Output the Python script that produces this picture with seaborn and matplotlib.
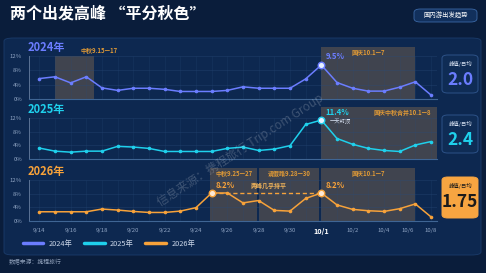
import numpy as np
import pandas as pd
import matplotlib.pyplot as plt
import seaborn as sns
from matplotlib.patches import FancyBboxPatch, Rectangle
from matplotlib.lines import Line2D

# --- DATA (share of trips per day, %) ---
years = ['2024年', '2025年', '2026年']
vals_2024 = [5.7, 6.2, 4.5, 6.2, 3.1, 2.4, 3.0, 3.0, 2.7, 2.1, 2.1, 2.1, 2.4,
             3.4, 3.0, 3.0, 3.0, 5.6, 9.5, 4.6, 3.0, 2.2, 2.2, 3.3, 4.8, 1.1]
vals_2025 = [3.2, 2.3, 2.0, 2.3, 2.3, 3.7, 3.5, 3.1, 2.2, 2.2, 2.2, 2.2, 3.1,
             3.5, 2.5, 2.9, 3.9, 10.1, 11.4, 6.0, 4.3, 3.1, 2.5, 2.2, 4.1, 5.1]
vals_2026 = [2.7, 2.7, 2.7, 2.7, 3.5, 3.2, 2.8, 2.5, 2.5, 2.9, 3.9, 8.2, 8.2,
             5.3, 6.0, 3.1, 2.9, 6.6, 8.2, 4.7, 3.4, 3.0, 2.8, 3.6, 5.0, 1.2]
tick_labels = ['9/14', '9/16', '9/18', '9/20', '9/22', '9/24', '9/26', '9/28',
               '9/30', '10/1', '10/2', '10/4', '10/6', '10/8']
tick_idx = [0, 2, 4, 6, 8, 10, 12, 14, 16, 18, 20, 22, 23.5, 25]
peak_idx = [[18], [18], [11, 18]]
ratio_text = ['2.0', '2.4', '1.75']

# holiday shading: (start, end, label)
holidays = [
    [(1, 3.5, '中秋9.15—17'), (17.95, 24.0, '国庆10.1—7')],
    [(17.95, 25.4, '国庆中秋合并10.1—8')],
    [(10.9, 13.9, '中秋9.25—27'), (14.05, 17.85, '请假路9.28—30'), (17.95, 24.0, '国庆10.1—7')],
]

# --- STYLE ---
COLORS = ['#6b7dff', '#1fd0ec', '#f7a23a']
BG = '#0a1d3b'
PANEL = '#0d2850'
TXT = '#8ea3c2'
HOLI_TXT = '#e09a36'

sns.set_theme(style='dark')
plt.rcParams['font.family'] = ['Noto Sans CJK SC', 'DejaVu Sans']
plt.rcParams['axes.unicode_minus'] = False

W, H = 486, 273
fx = lambda px: px / W
fy = lambda px: 1 - px / H

fig = plt.figure(figsize=(4.86, 2.73), dpi=100, facecolor=BG)

# inner rounded panel (behind the axes)
fig.patches.append(FancyBboxPatch((fx(4), fy(255)), fx(477), (255 - 38) / H,
                                  boxstyle='round,pad=0,rounding_size=0.02',
                                  mutation_aspect=H / W,
                                  transform=fig.transFigure, fc=PANEL, ec='#1b3c6b',
                                  lw=0.6, zorder=-5))

# title + badge
fig.text(fx(10), fy(14), '两个出发高峰 “平分秋色”', color='white', fontsize=11.5,
         fontweight='bold', va='center', ha='left')
fig.patches.append(FancyBboxPatch((fx(414), fy(22)), fx(63), 13 / H,
                                  boxstyle='round,pad=0,rounding_size=0.013',
                                  transform=fig.transFigure, fc='#12305c', ec='#3b68a6',
                                  lw=0.6, zorder=-4))
fig.text(fx(445.5), fy(15.5), '国内游出发趋势', color='white', fontsize=4.6,
         ha='center', va='center')

# panel layout in pixels: (box top, 12% line, 0% line)
layout = [(47, 56, 99), (107, 118, 159), (168, 180, 221)]
title_y = [48, 109, 171]
box_y = [(55, 93), (115, 153), (177, 218)]
x0_px, x1_px = 29, 437
first_px, last_px = 39.3, 431
step = (last_px - first_px) / 25
xlim = (-(first_px - x0_px) / step, 25 + (x1_px - last_px) / step)

all_vals = [vals_2024, vals_2025, vals_2026]

for k, vals in enumerate(all_vals):
    top, y12, y0 = layout[k]
    c = COLORS[k]
    ytop = 12 * (y0 - top) / (y0 - y12)
    ax = fig.add_axes([fx(x0_px), fy(y0), fx(x1_px - x0_px), (y0 - top) / H])
    ax.set_facecolor('none')
    ax.set_xlim(*xlim)
    ax.set_ylim(0, ytop)

    df = pd.DataFrame({'idx': np.arange(len(vals)), 'share': vals})

    # holiday boxes
    for j, (s, e, lab) in enumerate(holidays[k]):
        btop = 12 if (k == 0 and j == 0) else ytop
        ax.add_patch(Rectangle((s, 0), e - s, btop, fc='#4a4a4f', alpha=0.85,
                               ec='none', zorder=1))
        if k == 0 and j == 0:
            ax.text(2.6, 12.6, lab, color=HOLI_TXT, fontsize=4.3, ha='left',
                    va='bottom', fontweight='bold')
        elif k == 1:
            ax.text(e - 0.4, ytop - 0.6, lab, color=HOLI_TXT, fontsize=4.3,
                    ha='right', va='top', fontweight='bold')
        else:
            ax.text((s + e) / 2, ytop - 0.6, lab, color=HOLI_TXT, fontsize=4.3,
                    ha='center', va='top', fontweight='bold')

    # grid
    ax.hlines([4, 8, 12], xlim[0], xlim[1], color='#2a4c7a', lw=0.4, alpha=0.6, zorder=2)
    ax.vlines(np.arange(len(vals)), 0, 12, color='#2a4c7a', lw=0.4, alpha=0.35, zorder=2)

    sns.lineplot(data=df, x='idx', y='share', color=c, lw=1.1, marker='o',
                 markersize=2.6, markeredgewidth=0, ax=ax, zorder=4)

    # peaks
    for p in peak_idx[k]:
        ax.scatter([p], [vals[p]], s=22, facecolor='#fde9d6' if k == 2 else '#e8f0ff',
                   edgecolor=c, lw=1.0, zorder=6)
        ax.annotate(f'{vals[p]}%', (p, vals[p]), xytext=(3, 2.5),
                    textcoords='offset points', color=c, fontsize=5.6,
                    fontweight='bold', ha='left', va='bottom', zorder=7)
    if k == 1:
        ax.text(18.55, 10.9, '一天封顶', color='#d8e2f2', fontsize=3.8,
                ha='left', va='center', zorder=7)
    if k == 2:
        ax.hlines(8.2, 11, 18, color=c, lw=1.0, linestyles=(0, (3, 2)), zorder=3)
        ax.text(14.65, 10.3, '两峰几乎持平', color='#f1b45a', fontsize=4.3,
                ha='center', va='center', fontweight='bold', zorder=7)

    # axes
    ax.set_yticks([0, 4, 8, 12])
    ax.set_yticklabels(['0%', '4%', '8%', '12%'], color=TXT, fontsize=4.3)
    ax.tick_params(axis='y', length=0, pad=5)
    for side in ['top', 'right']:
        ax.spines[side].set_visible(False)
    ax.spines['left'].set_bounds(0, 12)
    ax.spines['left'].set_color('#5b7396')
    ax.spines['left'].set_linewidth(0.7)
    ax.spines['bottom'].set_color('#3f6594')
    ax.spines['bottom'].set_linewidth(0.8)
    ax.set_xlabel('')
    ax.set_ylabel('')
    if k == 2:
        ax.set_xticks(tick_idx)
        ax.set_xticklabels(tick_labels, fontsize=4.3, color=TXT)
        ax.tick_params(axis='x', length=0, pad=5)
        for t in ax.get_xticklabels():
            if t.get_text() == '10/1':
                t.set_fontweight('bold')
                t.set_color('white')
                t.set_fontsize(5.2)
    else:
        ax.set_xticks([])

    # panel title
    fig.text(fx(28), fy(title_y[k]), years[k], color=c, fontsize=8, fontweight='bold',
             ha='left', va='center')

    # ratio box on the right
    b0, b1 = box_y[k]
    fc = '#f7a541' if k == 2 else '#0f2c55'
    ec = '#f7a541' if k == 2 else '#2d5288'
    fig.patches.append(FancyBboxPatch((fx(442), fy(b1)), fx(36), (b1 - b0) / H,
                                      boxstyle='round,pad=0,rounding_size=0.012',
                                      transform=fig.transFigure, fc=fc, ec=ec, lw=0.7))
    tc = '#1b1b1b' if k == 2 else c
    fig.text(fx(460), fy(b0 + 9), '峰值/日均', color='#1b1b1b' if k == 2 else '#d6e0f0',
             fontsize=3.9, ha='center', va='center')
    fig.text(fx(460), fy(b0 + 25), ratio_text[k], color=tc, fontsize=12.5,
             fontweight='bold', ha='center', va='center')

# watermark
fig.text(fx(240), fy(150), '信息来源：携程旅行 Trip.com Group', color='white', alpha=0.2,
         fontsize=8.5, rotation=33, ha='center', va='center')

# legend
handles = [Line2D([], [], color=c, lw=2.5) for c in COLORS]
fig.legend(handles, years, loc='center left', bbox_to_anchor=(fx(16), fy(244)),
           ncol=3, frameon=False, fontsize=5.3, labelcolor='#c9d4e6',
           handlelength=2.8, handletextpad=0.7, columnspacing=1.6)

fig.text(fx(9), fy(262), '数据来源：携程旅行', color='#8a9bb5', fontsize=4.2,
         ha='left', va='center')

fig.savefig('out.png', dpi=100, facecolor=BG)
